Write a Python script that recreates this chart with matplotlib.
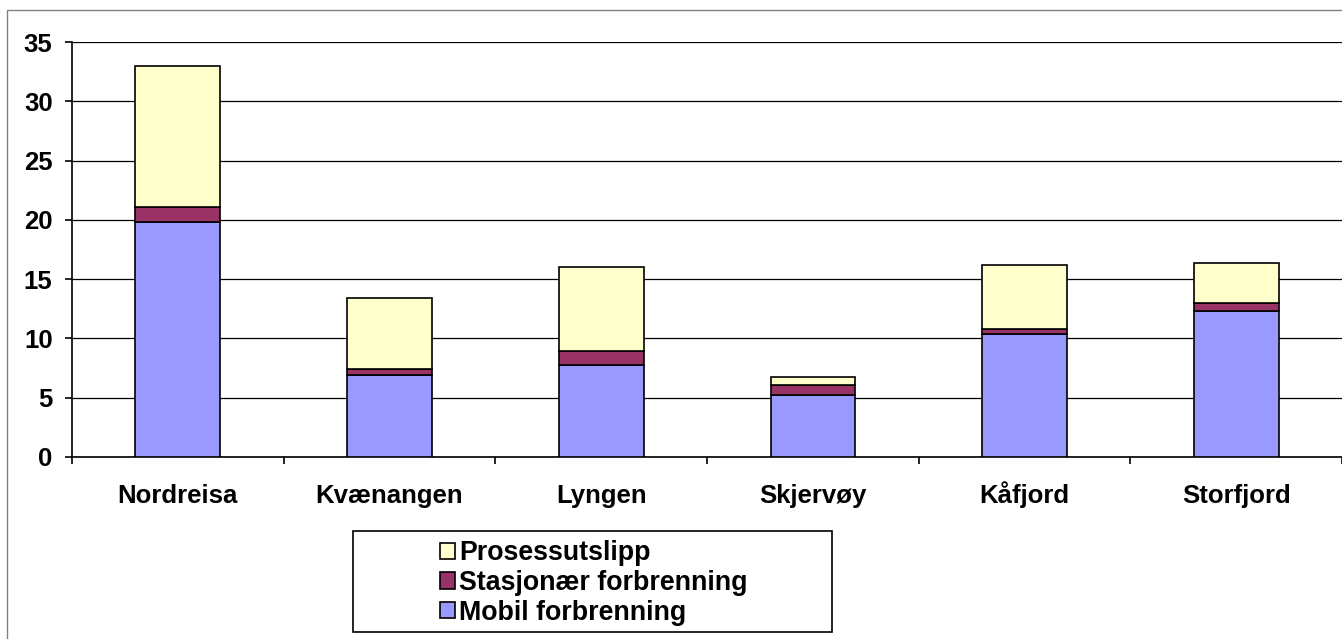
import matplotlib

matplotlib.use("Agg")
import matplotlib.pyplot as plt
import numpy as np
from matplotlib.patches import Rectangle

plt.rcParams.update({
    "font.family": ["Liberation Sans", "DejaVu Sans"],
    "font.weight": "bold",
    "font.size": 18.5,
})

# Data
kommuner = ["Nordreisa", "Kvænangen", "Lyngen", "Skjervøy", "Kåfjord", "Storfjord"]
mobil = [19.8, 6.9, 7.8, 5.2, 10.4, 12.3]
stasjonaer = [1.3, 0.5, 1.1, 0.85, 0.4, 0.7]
prosess = [11.9, 6.0, 7.1, 0.7, 5.4, 3.4]
series_names = ["Mobil forbrenning", "Stasjonær forbrenning", "Prosessutslipp"]
colors = ["#9999FF", "#993366", "#FFFFCC"]

W, H, DPI = 1342, 639, 100
fig = plt.figure(figsize=(W / DPI, H / DPI), dpi=DPI)

# outer chart-area frame (gray)
fig.add_artist(Rectangle((7 / W, -0.1), 1.2, (H - 10) / H + 0.1,
                         transform=fig.transFigure, fill=False,
                         edgecolor="#808080", lw=1.0))

ax = fig.add_axes([72 / W, (H - 457) / H, (W - 72) / W, (457 - 42) / H])

x = np.arange(len(kommuner))
bottom = np.zeros(len(kommuner))
handles = []
for vals, name, col in zip([mobil, stasjonaer, prosess], series_names, colors):
    b = ax.bar(x, vals, width=0.4, bottom=bottom, color=col, edgecolor="black",
               linewidth=1.2, label=name, zorder=3)
    handles.append(b)
    bottom += np.array(vals)

ax.set_xlim(-0.5, 5.5)
ax.set_ylim(0, 35)
ax.set_yticks(np.arange(0, 36, 5))
ax.yaxis.grid(True, color="black", lw=0.9, zorder=0)
ax.set_axisbelow(True)

for s in ["top", "right"]:
    ax.spines[s].set_visible(False)
ax.spines["left"].set_linewidth(1.2)
ax.spines["bottom"].set_linewidth(1.2)

ax.set_xticks(x)
ax.set_xticklabels(kommuner, fontweight="bold", va="baseline")
ax.set_xticks(np.arange(-0.5, 5.6, 1.0), minor=True)
ax.tick_params(axis="x", which="major", length=0, pad=33)
ax.tick_params(axis="x", which="minor", length=5, width=1.2, direction="out")
ax.tick_params(axis="y", length=5, width=1.2, direction="out", pad=9)
for t in ax.get_yticklabels():
    t.set_fontweight("bold")

# legend box
fig.add_artist(Rectangle((353 / W, (H - 632) / H), 479 / W, 101 / H,
                         transform=fig.transFigure, fill=False,
                         edgecolor="black", lw=1.2))
fig.legend(handles[::-1], series_names[::-1], loc="center left",
           bbox_to_anchor=(440 / W, (H - 583) / H), frameon=False,
           borderpad=0, borderaxespad=0, labelspacing=0.14,
           handlelength=0.55, handleheight=0.55, handletextpad=0.15,
           prop={"weight": "bold", "size": 19.3})

fig.savefig("out.png", dpi=DPI)
